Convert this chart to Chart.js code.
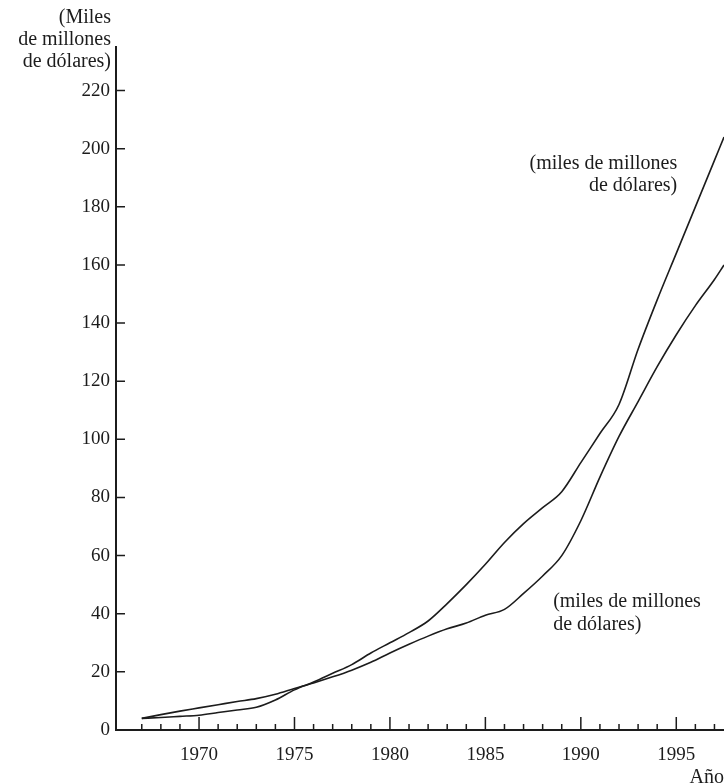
<!DOCTYPE html>
<html><head><meta charset="utf-8">
<script src="https://cdn.jsdelivr.net/npm/chart.js@4.4.1/dist/chart.umd.min.js"></script>
<style>html,body{margin:0;padding:0;background:#fff}canvas{display:block}</style>
</head><body>
<canvas id="c" width="724" height="783"></canvas>
<script>
// ---- data ----
const years = [1967,1968,1969,1970,1971,1972,1973,1974,1975,1976,1977,1978,1979,1980,1981,1982,1983,1984,1985,1986,1987,1988,1989,1990,1991,1992,1993,1994,1995,1996,1997,1997.5];
const serieA = [4,4.3,4.7,5.1,6.0,6.9,7.8,10.3,13.8,16.5,19.5,22.5,26.5,30,33.5,37.5,43.5,50,57,64.5,71,76.5,82,92,102,112,131,148,164,180,196,204];
const serieB = [4,5.3,6.5,7.6,8.7,9.8,10.8,12.3,14.3,16.2,18.3,20.6,23.3,26.5,29.5,32.3,34.8,36.8,39.5,41.5,47,53,60,72,87,101,113,125,136,146,155,160];
const yTickValues = [0,20,40,60,80,100,120,140,160,180,200,220];
const xTickYears = [1967,1968,1969,1970,1971,1972,1973,1974,1975,1976,1977,1978,1979,1980,1981,1982,1983,1984,1985,1986,1987,1988,1989,1990,1991,1992,1993,1994,1995,1996,1997];
const xLabelYears = [1970,1975,1980,1985,1990,1995];
const yTitleLines = ["(Miles","de millones","de dólares)"];
const labelA = ["(miles de millones","de dólares)"];
const labelB = ["(miles de millones","de dólares)"];
const xTitle = "Año";

const INK = '#1c1c1c';
const FONT = '"Liberation Serif", "Times New Roman", serif';

const annot = {
  id: 'annot',
  afterDraw(chart) {
    const {ctx, scales: {x, y}} = chart;
    ctx.save();
    ctx.strokeStyle = INK;
    ctx.lineWidth = 1.5;
    ctx.beginPath();
    x.ticks.forEach(t => {
      const px = x.getPixelForValue(t.value);
      const major = xLabelYears.includes(t.value);
      ctx.moveTo(px, y.bottom);
      ctx.lineTo(px, y.bottom - (major ? 13 : 6));
    });
    y.ticks.forEach(t => {
      if (t.value === 0) return;
      const py = y.getPixelForValue(t.value);
      ctx.moveTo(x.left, py);
      ctx.lineTo(x.left + 9, py);
    });
    ctx.stroke();

    ctx.fillStyle = INK;
    ctx.font = '20px ' + FONT;
    ctx.textBaseline = 'middle';
    ctx.textAlign = 'right';
    yTitleLines.forEach((s, i) => ctx.fillText(s, x.left - 5, 18 + i * 22));

    const ax = x.getPixelForValue(1995.05), ay = y.getPixelForValue(195);
    labelA.forEach((s, i) => ctx.fillText(s, ax, ay + i * 22));

    ctx.textAlign = 'left';
    const bx = x.getPixelForValue(1988.55), by = y.getPixelForValue(44.2);
    labelB.forEach((s, i) => ctx.fillText(s, bx, by + i * 23));
    ctx.restore();
  }
};

new Chart(document.getElementById('c'), {
  type: 'line',
  data: {
    datasets: [
      { data: years.map((v, i) => ({x: v, y: serieA[i]})), borderColor: INK, borderWidth: 1.6, pointRadius: 0, cubicInterpolationMode: 'monotone', fill: false },
      { data: years.map((v, i) => ({x: v, y: serieB[i]})), borderColor: INK, borderWidth: 1.6, pointRadius: 0, cubicInterpolationMode: 'monotone', fill: false }
    ]
  },
  options: {
    responsive: false,
    devicePixelRatio: 1,
    animation: false,
    layout: { padding: { left: 0, right: 0, top: 47, bottom: 0 } },
    plugins: { legend: { display: false }, tooltip: { enabled: false }, title: { display: false } },
    scales: {
      x: {
        type: 'linear',
        min: 1965.65,
        max: 1997.5,
        grid: { display: false, drawTicks: false },
        border: { display: true, color: INK, width: 2 },
        afterBuildTicks: s => { s.ticks = xTickYears.map(v => ({value: v})); },
        afterFit: s => { s.height = 53; s.paddingRight = 0; s.paddingLeft = 0; },
        ticks: {
          autoSkip: false, maxRotation: 0, padding: 14, color: INK,
          font: { family: FONT, size: 19 },
          callback: v => xLabelYears.includes(v) ? String(v) : ''
        },
        title: { display: true, text: xTitle, align: 'end', color: INK, padding: 0, font: { family: FONT, size: 20, lineHeight: 0.5 } }
      },
      y: {
        min: 0,
        max: 235,
        grid: { display: false, drawTicks: false },
        border: { display: true, color: INK, width: 2 },
        afterBuildTicks: s => { s.ticks = yTickValues.map(v => ({value: v})); },
        afterFit: s => { s.width = 116; s.paddingTop = 0; s.paddingBottom = 0; },
        ticks: { padding: 6, color: INK, font: { family: FONT, size: 19 }, callback: v => String(v) }
      }
    }
  },
  plugins: [annot]
});
</script>
</body></html>
